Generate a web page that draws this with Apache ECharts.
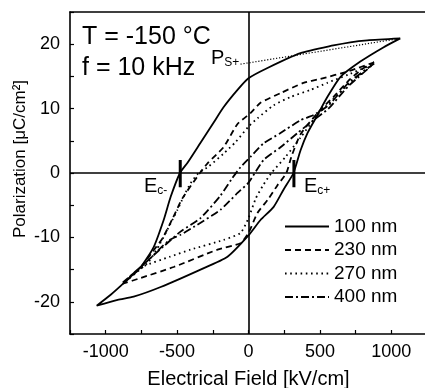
<!DOCTYPE html>
<html><head><meta charset="utf-8">
<script src="https://cdn.jsdelivr.net/npm/echarts@6/dist/echarts.min.js"></script>
<style>html,body{margin:0;padding:0;background:#fff}#c{width:425px;height:388px}</style>
</head><body><div id="c"></div>
<script>
// ---- data (E in kV/cm, P in µC/cm²) ----
const seriesNames = ['100 nm', '230 nm', '270 nm', '400 nm'];
const xTicks = [-1000, -500, 0, 500, 1000];
const yTicks = [-20, -10, 0, 10, 20];

const loop100Upper = [[1063,20.9],[832,20.6],[713,20.3],[594,19.8],[364,18.6],[133,16.3],[0,14.7],[-77,12.9],[-175,10.2],[-245,7.8],[-336,4.7],[-427,1.6],[-480,0],[-545,-3.7],[-594,-7.3],[-664,-11.5],[-755,-14.6],[-874,-17.1],[-965,-18.9],[-1063,-20.6]];
const loop100Lower = [[-1063,-20.6],[-916,-19.7],[-804,-19.2],[-615,-17.7],[-336,-15.0],[-147,-13.0],[0,-9.7],[84,-7.3],[175,-5.3],[245,-2.6],[315,0],[364,3.5],[413,6.2],[483,9.0],[552,11.8],[643,14.9],[783,17.3],[944,19.5],[1063,20.9]];

const loop230Upper = [[880,17.2],[700,15.8],[500,14.6],[385,14.0],[224,12.4],[84,10.9],[14,9.3],[-77,7.6],[-175,4.0],[-287,1.5],[-340,0],[-462,-3.9],[-530,-7.0],[-601,-10.1],[-671,-12.2],[-760,-14.8],[-880,-17.2]];
const loop230Lower = [[-880,-17.2],[-755,-16.3],[-524,-14.6],[-217,-11.9],[-56,-10.9],[0,-9.3],[63,-6.2],[140,-4.0],[203,-1.9],[265,0],[300,2.5],[364,6.0],[483,9.3],[594,11.8],[713,14.6],[800,16.2],[880,17.2]];

const loop270Upper = [[860,16.8],[700,15.3],[552,14.0],[434,12.9],[294,11.8],[175,10.5],[63,8.5],[0,7.2],[-91,4.8],[-175,3.0],[-280,1.0],[-350,0],[-406,-1.6],[-455,-3.7],[-497,-5.7],[-545,-7.8],[-620,-11.0],[-700,-13.8],[-860,-16.8]];
const loop270Lower = [[-860,-16.8],[-734,-14.5],[-550,-13.0],[-406,-11.9],[-175,-10.4],[-56,-9.3],[0,-7.0],[50,-4.0],[100,-2.0],[160,0],[259,2.5],[364,5.5],[483,9.0],[594,11.5],[713,14.0],[860,16.8]];

const loop400Upper = [[880,17.0],[700,14.0],[560,10.5],[455,9.0],[364,8.2],[224,6.2],[105,4.6],[14,2.5],[-56,0.9],[-120,-1.0],[-196,-3.5],[-336,-7.0],[-476,-9.1],[-600,-11.5],[-750,-14.5],[-880,-17.0]];
const loop400Lower = [[-880,-17.0],[-700,-13.5],[-560,-10.5],[-476,-9.6],[-385,-8.4],[-196,-5.7],[-77,-3.1],[0,-1.5],[105,2.0],[224,4.0],[343,6.2],[455,8.2],[560,10.0],[700,13.5],[880,17.0]];

const psLine = [[-56,16.9],[1063,20.9]];
const ecMinusTick = [[-478,2.0],[-478,-2.2]];
const ecPlusTick = [[318,2.0],[318,-2.2]];

// ---- chart ----
const chart = echarts.init(document.getElementById('c'), null, {renderer:'canvas'});
const font = 'Liberation Sans, Arial, Helvetica, sans-serif';
const black = '#000';
function loopSeries(name, upper, lower, type, width){
  return {
    name: name, type: 'line', data: upper.concat(lower.slice(1)),
    showSymbol: false, symbol: 'none', smooth: 0.2, silent: true,
    lineStyle: {color: black, width: width, type: type, cap: 'butt'},
    itemStyle: {color: black}
  };
}
const s100 = loopSeries(seriesNames[0], loop100Upper, loop100Lower, 'solid', 1.8);
s100.markLine = {
  silent: true, symbol: 'none', label: {show: false},
  lineStyle: {color: black, width: 1.6, type: 'solid'},
  data: [{xAxis: 0}, {yAxis: 0}]
};
const option = {
  animation: false,
  backgroundColor: '#fff',
  grid: {left: 70, right: -2, top: 12, bottom: 54, containLabel: false, outerBoundsMode: 'none'},
  xAxis: [{
    type: 'value', min: -1250, max: 1250, interval: 250, position: 'bottom',
    axisLine: {show: true, onZero: false, lineStyle: {color: black, width: 1.6}},
    axisTick: {show: true, inside: true, length: 4, lineStyle: {color: black, width: 1.2}},
    axisLabel: {color: black, fontFamily: font, fontSize: 18, margin: 9,
      formatter: v => xTicks.indexOf(v) >= 0 ? String(v) : ''},
    splitLine: {show: false},
    name: 'Electrical Field [kV/cm]', nameLocation: 'middle', nameGap: 35,
    nameTextStyle: {color: black, fontFamily: font, fontSize: 20}
  }, {
    type: 'value', min: -1250, max: 1250, position: 'top',
    axisLine: {show: true, onZero: false, lineStyle: {color: black, width: 1.6}},
    axisTick: {show: false}, axisLabel: {show: false}, splitLine: {show: false}
  }],
  yAxis: [{
    type: 'value', min: -25, max: 25, interval: 5,
    axisLine: {show: true, onZero: false, lineStyle: {color: black, width: 1.6}},
    axisTick: {show: true, inside: true, length: 4, lineStyle: {color: black, width: 1.2}},
    axisLabel: {color: black, fontFamily: font, fontSize: 18, margin: 10,
      formatter: v => yTicks.indexOf(v) >= 0 ? String(v) : ''},
    splitLine: {show: false}
  }],
  legend: {
    show: true, orient: 'vertical', left: 284, top: 217, padding: 0, itemWidth: 44, itemHeight: 12,
    itemGap: 4.5, data: seriesNames, selectedMode: false,
    itemStyle: {opacity: 0, borderWidth: 0},
    textStyle: {color: black, fontFamily: font, fontSize: 19}
  },
  series: [
    s100,
    loopSeries(seriesNames[1], loop230Upper, loop230Lower, [6,4], 1.8),
    loopSeries(seriesNames[2], loop270Upper, loop270Lower, [1.6,3.6], 1.8),
    loopSeries(seriesNames[3], loop400Upper, loop400Lower, [8,3,2,3], 1.8),
    {type:'line', data: psLine, showSymbol:false, symbol:'none', silent:true,
     lineStyle:{color:black, width:1.2, type:[1.2,1.8]}},
    {type:'line', data: ecMinusTick, showSymbol:false, symbol:'none', silent:true,
     lineStyle:{color:black, width:3}},
    {type:'line', data: ecPlusTick, showSymbol:false, symbol:'none', silent:true,
     lineStyle:{color:black, width:3}}
  ],
  graphic: [
    {type:'text', x: 20, y: 159, rotation: Math.PI/2,
     style:{text:'Polarization [μC/cm²]', fill:black, font:'17px ' + font, align:'center', verticalAlign:'middle'}},
    {type:'text', left: 82, top: 25, style:{text:'T = -150 °C', fill:black, font:'25px ' + font}},
    {type:'text', left: 82, top: 56, style:{text:'f = 10 kHz', fill:black, font:'25px ' + font}},
    {type:'text', left: 211, top: 48, style:{text:'{a|P}{b|S+}', fill:black,
      rich:{a:{fontSize:20, fontFamily:font, fill:black}, b:{fontSize:12, fontFamily:font, fill:black, padding:[10,0,0,0]}}}},
    {type:'text', left: 144, top: 176, style:{text:'{a|E}{b|c-}', fill:black,
      rich:{a:{fontSize:20, fontFamily:font, fill:black}, b:{fontSize:12, fontFamily:font, fill:black, padding:[10,0,0,0]}}}},
    {type:'text', left: 304, top: 176, style:{text:'{a|E}{b|c+}', fill:black,
      rich:{a:{fontSize:20, fontFamily:font, fill:black}, b:{fontSize:12, fontFamily:font, fill:black, padding:[10,0,0,0]}}}}
  ]
};
chart.setOption(option);
</script>
</body></html>
